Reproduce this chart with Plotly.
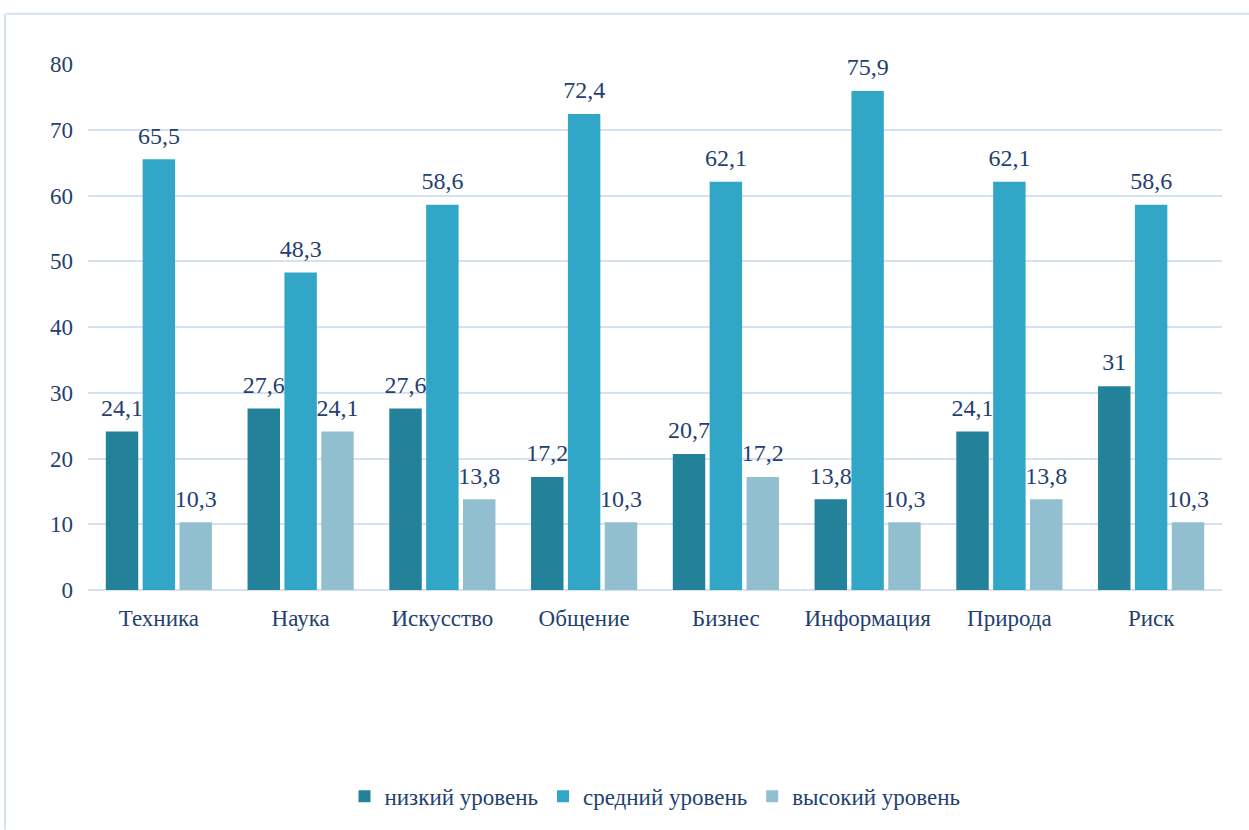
import plotly.graph_objects as go

categories = ["Техника", "Наука", "Искусство", "Общение", "Бизнес", "Информация", "Природа", "Риск"]
low = [24.1, 27.6, 27.6, 17.2, 20.7, 13.8, 24.1, 31]
mid = [65.5, 48.3, 58.6, 72.4, 62.1, 75.9, 62.1, 58.6]
high = [10.3, 24.1, 13.8, 10.3, 17.2, 10.3, 13.8, 10.3]
series_names = ["низкий уровень", "средний уровень", "высокий уровень"]

colors = ["#23819a", "#31a6c7", "#92bfcf"]
text_color = "#243f70"
font_family = "Liberation Serif, Times New Roman, serif"
BARGAP = 0.22


def fmt(v):
    s = ("%g" % v)
    return s.replace(".", ",")


fig = go.Figure()
for i, (name, vals, col) in enumerate(zip(series_names, [low, mid, high], colors)):
    fig.add_trace(go.Bar(
        x=categories, y=vals, name=name,
        marker=dict(color=col, line=dict(width=0)),
        offsetgroup=str(i),
        hoverinfo="skip",
    ))
for i, vals in enumerate([low, mid, high]):
    fig.add_trace(go.Scatter(
        x=categories, y=vals, mode="markers+text",
        text=[fmt(v) for v in vals], textposition="top center",
        textfont=dict(family=font_family, size=24, color=text_color),
        marker=dict(size=14, color="rgba(0,0,0,0)"),
        offsetgroup=str(i), showlegend=False, cliponaxis=False,
        hoverinfo="skip",
    ))

W, H = 1249, 830
L, T = 88, 64
plot_right = 1222
plot_bottom = 597
R, B = W - plot_right, H - plot_bottom
pw, ph = W - L - R, H - T - B


def px(x):
    return (x - L) / pw


def py(y):
    return (H - B - y) / ph


grid_col = "#d6e1f2"

fig.update_layout(
    width=W, height=H,
    margin=dict(l=L, r=R, t=T, b=B),
    paper_bgcolor="white", plot_bgcolor="white",
    barmode="group", bargap=BARGAP, bargroupgap=0.12,
    scattermode="group", scattergap=BARGAP,
    font=dict(family=font_family, size=24, color=text_color),
    showlegend=True,
    legend=dict(orientation="h", x=0.5, xanchor="center", y=py(806), yanchor="middle",
                font=dict(family=font_family, size=23, color=text_color),
                itemwidth=30, traceorder="normal"),
    xaxis=dict(showgrid=False, showline=False, ticks="", tickfont=dict(size=23, color=text_color),
               ticklabelstandoff=12),
    yaxis=dict(range=[0, 80], dtick=10, showgrid=True, gridcolor=grid_col, gridwidth=2,
               zeroline=True, zerolinecolor=grid_col, zerolinewidth=2,
               showline=False, ticks="", tickfont=dict(size=23, color=text_color),
               ticklabelstandoff=14),
    shapes=[
        dict(type="line", xref="paper", yref="paper", x0=px(5), x1=px(5), y0=py(13), y1=py(840),
             line=dict(color=grid_col, width=2)),
        dict(type="line", xref="paper", yref="paper", x0=px(5), x1=px(1260), y0=py(13), y1=py(13),
             line=dict(color=grid_col, width=2)),
    ],
)

fig.write_html("out.html", config={"displayModeBar": False},
               post_script="document.body.style.margin='0';")
